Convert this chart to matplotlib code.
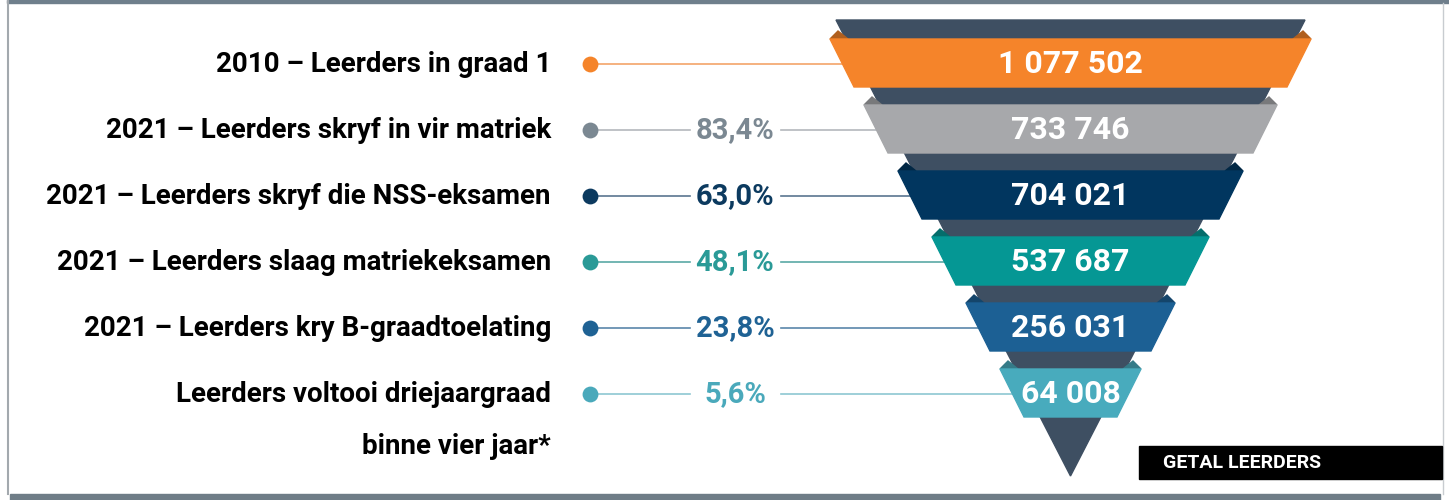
"""
Leerders-tregter (funnel) - matriek tot graad
"""
import matplotlib.pyplot as plt
from matplotlib.patches import Polygon, Rectangle
import numpy as np

categories = [
    "2010 – Leerders in graad 1",
    "2021 – Leerders skryf in vir matriek",
    "2021 – Leerders skryf die NSS-eksamen",
    "2021 – Leerders slaag matriekeksamen",
    "2021 – Leerders kry B-graadtoelating",
    "Leerders voltooi driejaargraad\nbinne vier jaar*",
]
counts = [1077502, 733746, 704021, 537687, 256031, 64008]
percents = [None, 83.4, 63.0, 48.1, 23.8, 5.6]

band_colors = ["#f5842a", "#a7a8ab", "#01365f", "#059794", "#1c6094", "#48abbd"]
accent_colors = ["#f5842a", "#7b8892", "#0c3a5f", "#2a9a97", "#1f6294", "#4aa9bb"]
line_colors = ["#f4a46a", "#b4b8bc", "#5a7690", "#5aa9a6", "#5a86aa", "#8ec7d2"]
funnel_bg = "#3e4f62"

W, H = 1449, 500
fig = plt.figure(figsize=(W / 100, H / 100), dpi=100)
ax = fig.add_axes([0, 0, 1, 1])
ax.set_xlim(0, W)
ax.set_ylim(H, 0)
ax.axis("off")

# frame
ax.add_patch(Rectangle((7, 0), W - 7, 3, color="#6f7f8c", zorder=1))
ax.plot([7.5, 7.5], [0, 494], color="#a3a9ae", lw=1.5, zorder=1)
ax.plot([1443, 1443], [3, 494], color="#c8ccd0", lw=1, zorder=1)
ax.add_patch(Rectangle((10, 494), 1430, 6, color="#6f7d87", zorder=1))

# funnel backdrop
cx = 1070.5
ax.add_patch(Polygon([(836, 20), (1305, 20), (cx, 476)], closed=True,
                     color=funnel_bg, zorder=2))

def darker(c, f=0.72):
    r, g, b = [int(c[i:i + 2], 16) / 255 for i in (1, 3, 5)]
    return (r * f, g * f, b * f)

top0, step, band_h = 39, 66, 48
half0, half_step, slant = 240.5, 34, 24
label_x, dot_x, pct_x = 551, 590, 735

for i, (cat, n, p) in enumerate(zip(categories, counts, percents)):
    top = top0 + i * step
    bot = top + band_h
    ht = half0 - i * half_step
    hb = ht - slant
    yc = (top + bot) / 2 + 1
    col = band_colors[i]

    # fold tabs at top corners
    for s in (-1, 1):
        ax.add_patch(Polygon([(cx + s * ht, top), (cx + s * (ht - 8), top - 8),
                              (cx + s * (ht - 18), top)],
                             closed=True, color=darker(col), zorder=3))
    ax.add_patch(Polygon([(cx - ht, top), (cx + ht, top), (cx + hb, bot), (cx - hb, bot)],
                         closed=True, color=col, zorder=4))
    ax.text(cx, yc, f"{n:,}".replace(",", " "), ha="center", va="center",
            color="white", fontsize=23, fontweight="bold",
            family="Roboto", zorder=5)

    # connector line, dot, percentage
    acc = accent_colors[i]
    ax.scatter([dot_x], [yc], s=130, color=acc, zorder=4, linewidths=0)
    if p is None:
        ax.plot([dot_x, cx], [yc, yc], color=line_colors[i], lw=1.2, zorder=1.5)
    else:
        ax.plot([dot_x, 690], [yc, yc], color=line_colors[i], lw=1.2, zorder=1.5)
        ax.plot([781, cx], [yc, yc], color=line_colors[i], lw=1.2, zorder=1.5)
        ax.text(pct_x, yc, f"{p:.1f}%".replace(".", ","), ha="center", va="center",
                color=acc, fontsize=21, fontweight="bold",
                family="Roboto", zorder=5)

    # category label (multi-line labels stacked downward)
    for j, part in enumerate(cat.split("\n")):
        ax.text(label_x, yc + j * 53, part, ha="right", va="center",
                color="black", fontsize=20, fontweight="bold", family="Roboto")

# key box
ax.add_patch(Rectangle((1139, 446), 303, 33, color="black", zorder=5))
ax.text(1163, 463, "GETAL LEERDERS", ha="left", va="center", color="white",
        fontsize=14, fontweight="bold", family="Roboto", zorder=6)

fig.savefig("out.png", dpi=100)
